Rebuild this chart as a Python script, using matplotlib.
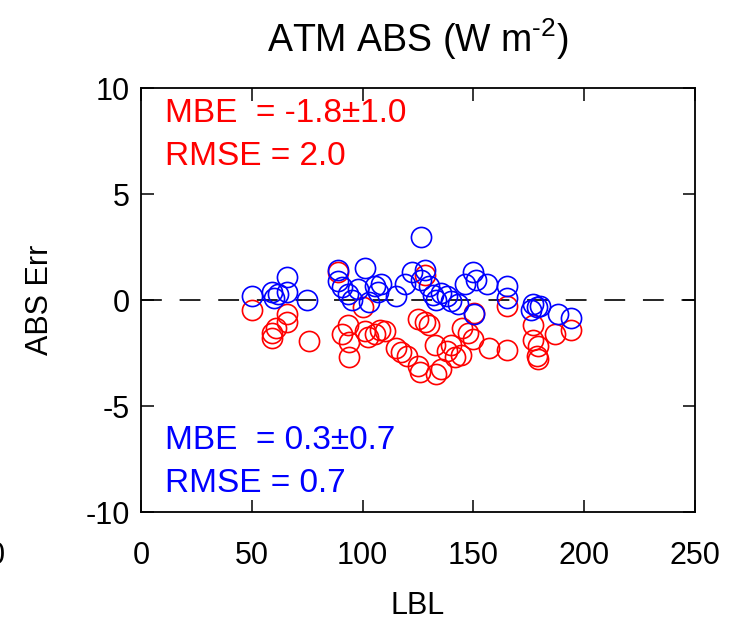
import matplotlib
matplotlib.use("Agg")
import matplotlib.pyplot as plt

plt.rcParams["font.family"] = ["Liberation Sans", "DejaVu Sans"]
plt.rcParams["mathtext.fontset"] = "custom"
plt.rcParams["mathtext.rm"] = "Liberation Sans"
plt.rcParams["axes.unicode_minus"] = False
plt.rcParams["lines.scale_dashes"] = False

# Error of the fast scheme vs. line-by-line (LBL) reference, two model versions
lbl_red = [50, 59, 59, 61, 66, 66, 76,
           89, 90.5, 93.5, 94, 94, 100, 101, 102.5, 105.5, 108, 110, 115, 117.5,
           120, 125, 126, 125,
           128, 128, 130, 132.5, 133, 135.5, 138, 140, 141.5, 144.5, 145, 147.5,
           150.5, 150, 157, 165, 165,
           177, 177, 179, 178.5, 179, 187, 194]
err_red = [-0.45, -1.55, -1.8, -1.3, -0.65, -1.05, -1.95,
           1.3, -1.6, -1.2, -2.0, -2.7, -0.35, -1.45, -1.75, -1.6, -1.4, -1.45, -2.25, -2.45,
           -2.65, -3.1, -3.4, -0.9,
           1.2, -1.05, -1.2, -2.1, -3.5, -3.25, -2.4, -2.1, -2.7, -2.6, -1.3, -1.55,
           -0.6, -1.85, -2.25, -2.35, -0.3,
           -1.2, -1.9, -2.15, -2.65, -2.8, -1.6, -1.4]

lbl_blue = [50, 59, 60, 62, 66, 66, 75,
            89, 89, 90.5, 93.5, 95, 98, 101, 103, 105.5, 107, 108.5, 115, 119, 122.5,
            126.5, 128, 126.5, 130, 132, 133, 135.5, 138, 140, 143, 146, 150, 151,
            150.5, 156, 165, 165,
            176, 177, 178.5, 180, 188, 194]
err_blue = [0.2, 0.4, 0.1, 0.3, 1.1, 0.4, 0.0,
            1.4, 0.9, 0.6, 0.3, 0.0, 0.5, 1.5, -0.1, 0.65, 0.4, 0.75, 0.2, 0.75, 1.3,
            2.95, 1.4, 0.95, 0.65, 0.25, 0.0, 0.35, 0.2, -0.05, -0.2, 0.75, 1.3, 0.95,
            -0.65, 0.75, 0.65, 0.1,
            -0.45, -0.2, -0.35, -0.3, -0.65, -0.85]

x_ticks = [0, 50, 100, 150, 200, 250]
y_ticks = [-10, -5, 0, 5, 10]

red_stats = ["MBE  = -1.8\u00b11.0", "RMSE = 2.0"]
blue_stats = ["MBE  = 0.3\u00b10.7", "RMSE = 0.7"]

RED = "#ff0000"
BLUE = "#0000ff"

fig = plt.figure(figsize=(7.46, 6.27), dpi=100)
ax = fig.add_axes([0.189, 0.1834, 0.7426, 0.6762])

ax.plot(x_ticks[::len(x_ticks) - 1], [0, 0], color="black", lw=1.2,
        dashes=(15, 12.8), zorder=1)

ax.plot(lbl_red, err_red, linestyle="none", marker="o", ms=14.5, mfc="none",
        mec=RED, mew=1.2, zorder=2)
ax.plot(lbl_blue, err_blue, linestyle="none", marker="o", ms=14.5, mfc="none",
        mec=BLUE, mew=1.2, zorder=3)

ax.set_xlim(0, 250)
ax.set_ylim(-10, 10)
ax.set_xticks(x_ticks)
ax.set_yticks(y_ticks)
ax.tick_params(axis="both", direction="in", length=9, width=1.1,
               top=True, right=True, labelsize=22, colors="black")
ax.tick_params(axis="x", pad=21)
ax.tick_params(axis="y", pad=8)
for s in ax.spines.values():
    s.set_linewidth(1.3)

ax.set_xlabel("LBL", fontsize=22, labelpad=14)
ax.set_ylabel("ABS Err", fontsize=22, labelpad=22)

fs_stat = 24
ax.text(0.043, 0.920, red_stats[0], transform=ax.transAxes, color=RED,
        fontsize=fs_stat, va="baseline", ha="left")
ax.text(0.043, 0.818, red_stats[1], transform=ax.transAxes, color=RED,
        fontsize=fs_stat, va="baseline", ha="left")
ax.text(0.043, 0.149, blue_stats[0], transform=ax.transAxes, color=BLUE,
        fontsize=fs_stat, va="baseline", ha="left")
ax.text(0.043, 0.047, blue_stats[1], transform=ax.transAxes, color=BLUE,
        fontsize=fs_stat, va="baseline", ha="left")

fig.text(0.560, 0.917, r"ATM ABS (W m$^{\text{-2}}$)", fontsize=27,
         ha="center", va="baseline")

# edge of the neighbouring panel's tick label
fig.text(0.007, 0.100, "0", fontsize=22, ha="right", va="baseline")

fig.savefig("out.png", dpi=100)
